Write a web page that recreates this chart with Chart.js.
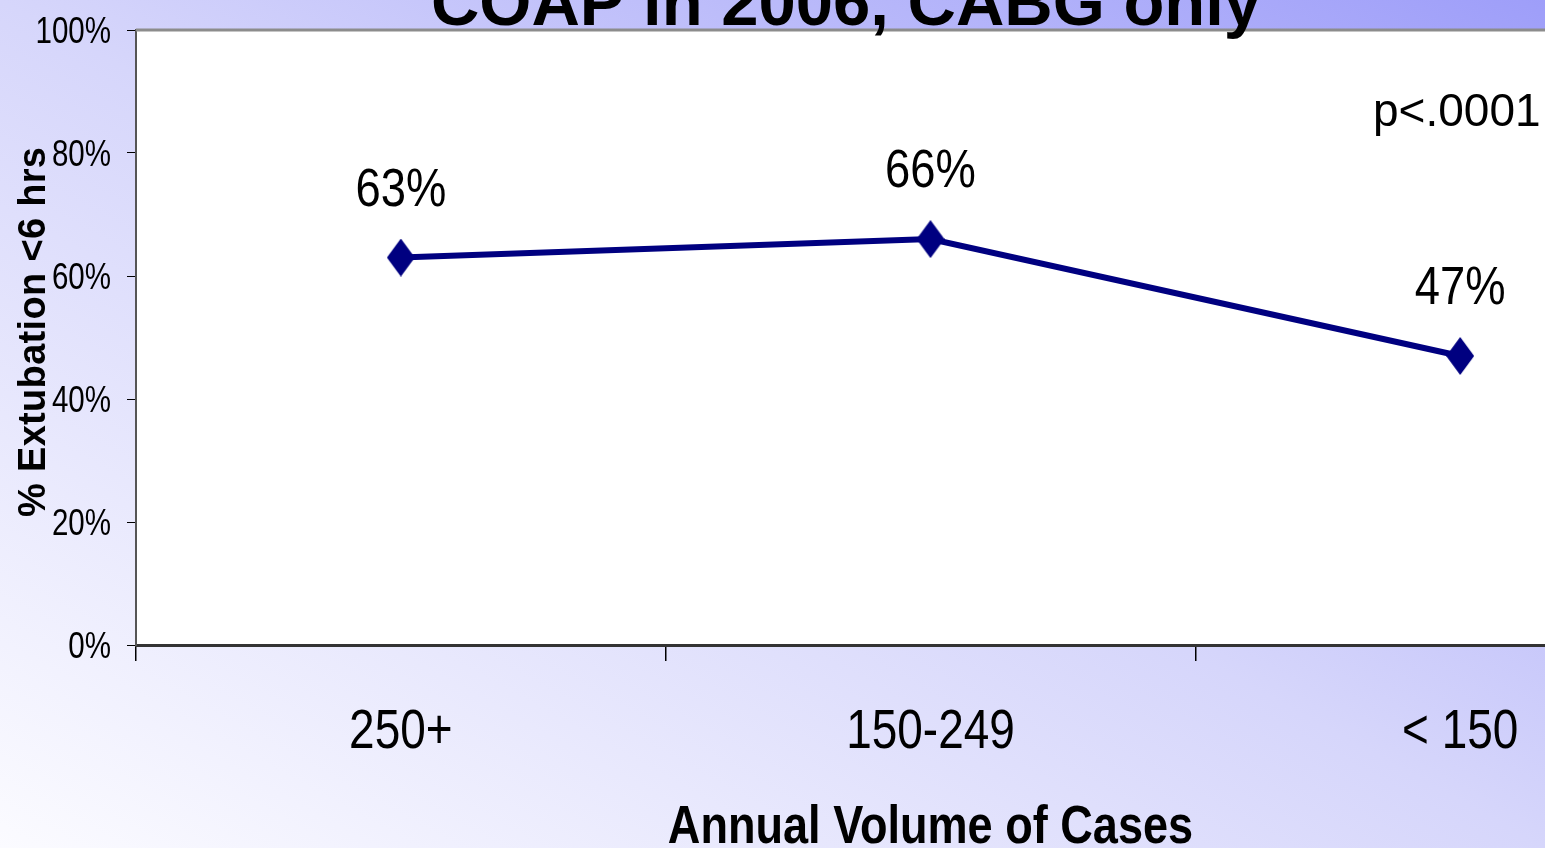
<!DOCTYPE html>
<html>
  <head>
    <meta charset="UTF-8" />
    <title>COAP in 2006, CABG only</title>
    <script src="https://cdn.jsdelivr.net/npm/chart.js"></script>
    <style>
      html,
      body {
        margin: 0;
        padding: 0;
        width: 1545px;
        height: 848px;
        overflow: hidden;
      }

      body {
        background: linear-gradient(
          to top right,
          #fbfbff 0%,
          #d6d6fb 50%,
          #9e9ef9 100%
        );
      }

      canvas {
        display: block;
      }
    </style>
  </head>

  <body>
    <!-- chart is wider than the window: the last category runs off the right edge -->
    <canvas id="extubationChart" width="1760" height="848"></canvas>

    <script>
      const categories = ["250+", "150-249", "< 150"];
      const extubationPct = [63, 66, 47];
      const yTicks = [0, 20, 40, 60, 80, 100];

      const SANS = "'Liberation Sans', Arial, sans-serif";
      const NARROW_X = 0.82; // no narrow font installed, squeeze Liberation Sans instead

      // tall diamond marker
      const diamond = document.createElement("canvas");
      diamond.width = 28;
      diamond.height = 38;
      const dctx = diamond.getContext("2d");
      dctx.fillStyle = "#000080";
      dctx.beginPath();
      dctx.moveTo(14, 0);
      dctx.lineTo(28, 19);
      dctx.lineTo(14, 38);
      dctx.lineTo(0, 19);
      dctx.closePath();
      dctx.fill();

      function narrowText(ctx, text, x, y, font, align, sx) {
        ctx.save();
        ctx.font = font;
        ctx.fillStyle = "#000";
        ctx.textAlign = align;
        ctx.textBaseline = "alphabetic";
        ctx.translate(x, y);
        ctx.scale(sx || NARROW_X, 1);
        ctx.fillText(text, 0, 0);
        ctx.restore();
      }

      // white plot area + grey top frame
      const plotFrame = {
        id: "plotFrame",
        beforeDraw(chart) {
          const { ctx, chartArea: a } = chart;
          ctx.save();
          ctx.fillStyle = "#ffffff";
          ctx.fillRect(a.left, a.top, a.right - a.left, a.bottom - a.top);
          ctx.restore();
        },
        afterDraw(chart) {
          const { ctx, chartArea: a } = chart;
          ctx.save();
          ctx.strokeStyle = "#8c8c8c";
          ctx.lineWidth = 3;
          ctx.beginPath();
          ctx.moveTo(a.left, a.top);
          ctx.lineTo(a.right + 40, a.top);
          ctx.stroke();
          ctx.restore();
        },
      };

      // tick labels and x title in the condensed face
      const axisText = {
        id: "axisText",
        afterDraw(chart) {
          const { ctx, chartArea: a } = chart;
          const xs = chart.scales.x;
          const ys = chart.scales.y;
          yTicks.forEach((v) => {
            narrowText(ctx, v + "%", 111, ys.getPixelForValue(v) + 13, "36px " + SANS, "right");
          });
          categories.forEach((c, i) => {
            narrowText(ctx, c, xs.getPixelForValue(i), 748, "56px " + SANS, "center");
          });
          narrowText(ctx, "Annual Volume of Cases", (a.left + a.right) / 2, 843, "bold 54px " + SANS, "center", 0.835);
        },
      };

      // value labels above the points
      const valueLabels = {
        id: "valueLabels",
        afterDatasetsDraw(chart) {
          const meta = chart.getDatasetMeta(0);
          meta.data.forEach((pt, i) => {
            narrowText(chart.ctx, extubationPct[i] + "%", pt.x, pt.y - 52, "54px " + SANS, "center", 0.84);
          });
        },
      };

      // slide title, p value and the y axis title
      const extraText = {
        id: "extraText",
        afterDraw(chart) {
          const { ctx } = chart;
          ctx.save();
          ctx.fillStyle = "#000";

          ctx.font = "bold 67px " + SANS;
          ctx.textAlign = "center";
          ctx.textBaseline = "alphabetic";
          ctx.fillText("COAP in 2006, CABG only", 846, 25);

          ctx.font = "46px " + SANS;
          ctx.textAlign = "left";
          ctx.fillText("p<.0001", 1373, 126);

          const yTitle = "% Extubation <6 hrs";
          ctx.font = "bold 38px " + SANS;
          const w0 = ctx.measureText(yTitle).width;
          const spacing = Math.max(0, (370 - w0) / (yTitle.length - 1));
          ctx.letterSpacing = spacing + "px";
          ctx.translate(45, 332);
          ctx.rotate(-Math.PI / 2);
          ctx.textAlign = "center";
          ctx.fillText(yTitle, spacing / 2, 0);
          ctx.restore();
        },
      };

      const ctx = document.getElementById("extubationChart").getContext("2d");
      new Chart(ctx, {
        type: "line",
        data: {
          labels: categories,
          datasets: [
            {
              data: extubationPct,
              borderColor: "#000080",
              backgroundColor: "#000080",
              borderWidth: 6,
              tension: 0,
              pointStyle: diamond,
              pointRadius: 14,
            },
          ],
        },
        options: {
          responsive: false,
          animation: false,
          layout: { padding: { top: 30, right: 35, left: 0, bottom: 0 } },
          plugins: {
            legend: { display: false },
            tooltip: { enabled: false },
          },
          scales: {
            x: {
              offset: true,
              grid: {
                offset: true,
                drawOnChartArea: false,
                tickLength: 16,
                color: "#000",
                lineWidth: 1.5,
              },
              border: { color: "#333", width: 3 },
              ticks: { display: false },
              afterFit: (axis) => {
                axis.height = 203;
              },
            },
            y: {
              min: 0,
              max: 100,
              afterBuildTicks: (axis) => {
                axis.ticks = yTicks.map((v) => ({ value: v }));
              },
              ticks: { display: false },
              grid: { drawOnChartArea: false, tickLength: 9, color: "#000" },
              border: { color: "#555", width: 2 },
              afterFit: (axis) => {
                axis.width = 136;
              },
            },
          },
        },
        plugins: [plotFrame, valueLabels, axisText, extraText],
      });
    </script>
  </body>
</html>
